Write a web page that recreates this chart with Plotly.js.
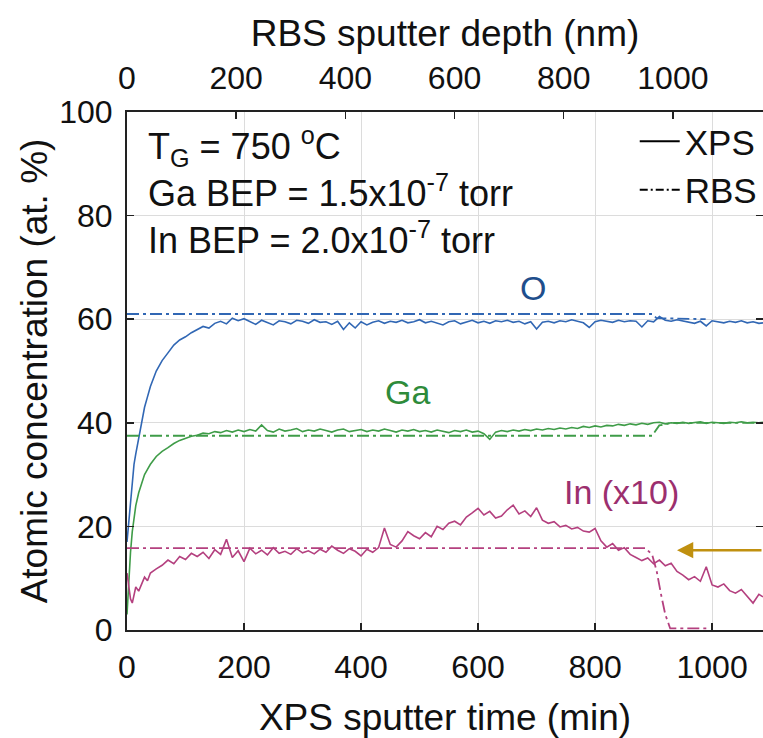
<!DOCTYPE html>
<html>
<head>
<meta charset="utf-8">
<script src="https://cdn.plot.ly/plotly-3.0.1.min.js"></script>
<style>html,body{margin:0;padding:0;background:#fff;}#chart{width:763px;height:738px;}</style>
</head>
<body>
<div id="chart"></div>
<script>
// XPS sputter time (min)
const xpsTime = [0,3,6,9,12,15,20,25,30,35,40,
  50,60,70,80,90,100,110,120,130,140,
  150,160,170,180,190,200,210,220,230,240,
  250,260,270,280,290,300,310,320,330,340,
  350,360,370,380,390,400,410,420,430,440,
  450,460,470,480,490,500,510,520,530,540,
  550,560,570,580,590,600,610,620,630,640,
  650,660,670,680,690,700,710,720,730,740,
  750,760,770,780,790,800,810,820,830,840,
  850,860,870,880,890,900,910,920,930,940,
  950,960,970,980,990,1000,1010,1020,1030,1040,
  1050,1060,1070,1080,1087];

const xpsO = [17,21,25,29,32,34,37,40,43,45,47,
  50,52,53.5,55,56,56.6,57.4,58,58.6,58.3,
  59.2,59.6,59.1,60.2,59.7,60.1,59.5,59.0,59.8,59.4,
  58.9,59.7,59.5,59.1,59.8,59.6,59.2,59.9,59.4,59.5,
  59.0,59.6,58.0,59.3,58.3,59.5,58.9,59.4,59.7,59.2,
  59.6,59.4,59.8,59.3,59.5,59.9,59.3,59.6,59.2,58.9,
  59.5,59.7,59.1,59.5,59.8,59.3,59.6,59.2,59.7,59.5,
  59.8,59.4,59.6,59.1,59.5,58.1,59.4,59.6,59.3,59.7,
  59.5,59.9,59.6,59.3,58.4,59.5,59.8,59.6,59.4,59.8,
  59.5,59.7,59.6,58.5,59.7,59.5,60.5,59.8,59.6,59.9,
  59.7,59.5,59.2,59.6,58.7,59.7,59.5,59.3,59.6,59.4,
  59.7,59.3,59.5,59.2,59.3];

const xpsGa = [3,10,15,19,22,24,26.5,28.5,30,31,32,
  33.5,34.5,35.2,36,36.6,37,37.4,37.6,38,37.9,
  38.3,38.1,38.5,38.2,38.6,38.3,38.7,38.4,39.6,38.5,
  38.2,38.8,38.4,38.6,38.9,38.3,38.6,38.4,38.8,38.5,
  38.2,38.6,38.8,38.3,38.5,38.7,38.3,38.6,38.4,38.8,
  38.5,38.2,38.6,38.4,38.7,38.3,38.5,38.2,38.6,38.4,
  38.1,38.5,38.3,38.6,38.2,38.4,37.9,36.8,38.2,38.5,
  38.3,38.6,38.4,38.7,38.5,38.8,38.6,38.9,38.7,39.0,
  38.8,39.1,38.9,39.3,39.1,39.4,39.2,39.5,39.4,39.7,
  39.5,39.8,39.6,39.9,39.7,40.0,40.1,39.8,40.0,39.9,
  40.1,39.9,40.0,40.2,39.9,40.1,40.0,39.9,40.1,40.0,
  40.2,40.0,40.1,40.0,40.1];

// In concentration x10
const xpsIn = [11,8,6,5.2,7,8.3,7.5,9,10.2,9.5,11,
  11.8,12.5,13.5,12.8,14.2,13.6,14.8,14.2,15.0,13.8,
  15.5,14.6,17.5,14.0,15.3,13.2,15.8,14.7,15.4,14.5,
  15.9,14.8,15.2,14.6,15.7,14.9,15.3,14.7,15.6,15.0,
  16.2,15.4,14.8,15.7,15.2,14.3,15.6,15.0,15.9,19.7,
  16.5,16.0,17.2,19.0,18.2,17.6,18.8,18.0,20.0,19.4,
  20.6,21.0,20.3,21.8,22.6,23.5,22.2,22.9,21.6,22.0,
  23.2,24.1,22.4,23.0,21.9,23.6,21.2,20.6,20.9,19.9,
  20.2,19.5,19.8,19.1,18.9,19.6,17.2,16.0,16.7,15.4,
  15.9,14.6,14.0,13.4,13.9,12.8,13.5,12.4,12.9,11.3,
  10.6,9.7,10.3,9.4,12.2,8.7,8.3,8.9,7.6,7.1,
  7.8,6.4,5.2,6.9,6.4];

// RBS depth profiles (nm)
const rbsODepth = [0,962,970,1060];
const rbsO = [61,61,60.2,60.0];
const rbsGaDepth = [0,962,975,1000,1165];
const rbsGa = [37.5,37.5,39.5,40,40];
const rbsInDepth = [0,950,962,970,978,986,995,1062];
const rbsIn = [15.8,15.8,14.5,11.5,7,3,0.3,0.3];

const xTicks = [0,200,400,600,800,1000];
const yTicks = [0,20,40,60,80,100];

const cO = '#3167b4', cGa = '#3f9c48', cIn = '#b4407f';
const rbsDash = '12px,4px,3px,4px';
const FONT = 'Liberation Sans, Arial, Helvetica, sans-serif';

const traces = [
  {x: rbsODepth, y: rbsO, xaxis:'x2', mode:'lines', line:{color:cO, width:1.8, dash:rbsDash}, showlegend:false},
  {x: rbsGaDepth, y: rbsGa, xaxis:'x2', mode:'lines', line:{color:cGa, width:1.8, dash:rbsDash}, showlegend:false},
  {x: rbsInDepth, y: rbsIn, xaxis:'x2', mode:'lines', line:{color:cIn, width:1.8, dash:rbsDash}, showlegend:false},
  {x: xpsTime, y: xpsO, mode:'lines', line:{color:cO, width:1.6}, showlegend:false},
  {x: xpsTime, y: xpsGa, mode:'lines', line:{color:cGa, width:1.6}, showlegend:false},
  {x: xpsTime, y: xpsIn, mode:'lines', line:{color:cIn, width:1.6}, showlegend:false},
  {x:[null], y:[null], mode:'lines', name:'XPS', line:{color:'#000', width:2}},
  {x:[null], y:[null], mode:'lines', name:'RBS', line:{color:'#000', width:2, dash:'8px,3px,2px,3px'}}
];

const axCommon = {
  ticks:'inside', ticklen:7, tickwidth:1.5, tickcolor:'#222',
  showline:true, linecolor:'#222', linewidth:2, zeroline:false,
  tickfont:{size:32, color:'#111', family:FONT}
};

const layout = {
  width:763, height:738,
  margin:{l:127, r:0, t:112, b:108, pad:0},
  paper_bgcolor:'#fff', plot_bgcolor:'#fff',
  font:{family:FONT, color:'#111'},
  showlegend:true,
  legend:{x:0.998, xanchor:'right', y:1.0, yanchor:'top', bgcolor:'rgba(0,0,0,0)',
          font:{size:35, family:FONT, color:'#111'}, itemwidth:40, tracegroupgap:0},
  xaxis: Object.assign({}, axCommon, {
    range:[0,1087], tickvals:xTicks, showgrid:true, gridcolor:'#dcdcdc', gridwidth:1,
    ticklabelstandoff:8,
    title:{text:'XPS sputter time (min)', font:{size:37, family:FONT, color:'#111'}, standoff:20}
  }),
  xaxis2: Object.assign({}, axCommon, {
    overlaying:'x', side:'top', anchor:'y', range:[0,1165], tickvals:xTicks, showgrid:false,
    ticklabelstandoff:8,
    title:{text:'RBS sputter depth (nm)', font:{size:37, family:FONT, color:'#111'}, standoff:2}
  }),
  yaxis: Object.assign({}, axCommon, {
    range:[0,100], tickvals:yTicks, showgrid:true, gridcolor:'#dcdcdc', gridwidth:1, mirror:'ticks',
    ticklabelstandoff:6,
    title:{text:'Atomic concentration (at. %)', font:{size:37, family:FONT, color:'#111'}, standoff:0}
  }),
  annotations:[
    {xref:'paper', yref:'paper', x:0.030, y:0.933, xanchor:'left', yanchor:'middle', showarrow:false,
     text:'T<sub>G</sub> = 750 <sup>o</sup>C', font:{size:36, family:FONT, color:'#111'}},
    {xref:'paper', yref:'paper', x:0.030, y:0.848, xanchor:'left', yanchor:'middle', showarrow:false,
     text:'Ga BEP = 1.5x10<sup>-7</sup> torr', font:{size:36, family:FONT, color:'#111'}},
    {xref:'paper', yref:'paper', x:0.030, y:0.756, xanchor:'left', yanchor:'middle', showarrow:false,
     text:'In BEP = 2.0x10<sup>-7</sup> torr', font:{size:36, family:FONT, color:'#111'}},
    {x:694, y:66, xanchor:'center', yanchor:'middle', showarrow:false, text:'O', font:{size:34, family:FONT, color:'#1f4e8c'}},
    {x:480, y:46, xanchor:'center', yanchor:'middle', showarrow:false, text:'Ga', font:{size:34, family:FONT, color:'#2e8b3a'}},
    {x:846, y:26.6, xanchor:'center', yanchor:'middle', showarrow:false, text:'In (x10)', font:{size:34, family:FONT, color:'#9c2f6e'}},
    {x:940, y:15.4, ax:88, ay:0, text:'', showarrow:true, arrowhead:2, arrowsize:1.3, arrowwidth:2.5, arrowcolor:'#c0900f'}
  ]
};

Plotly.newPlot('chart', traces, layout, {displayModeBar:false, staticPlot:true});
</script>
</body>
</html>
